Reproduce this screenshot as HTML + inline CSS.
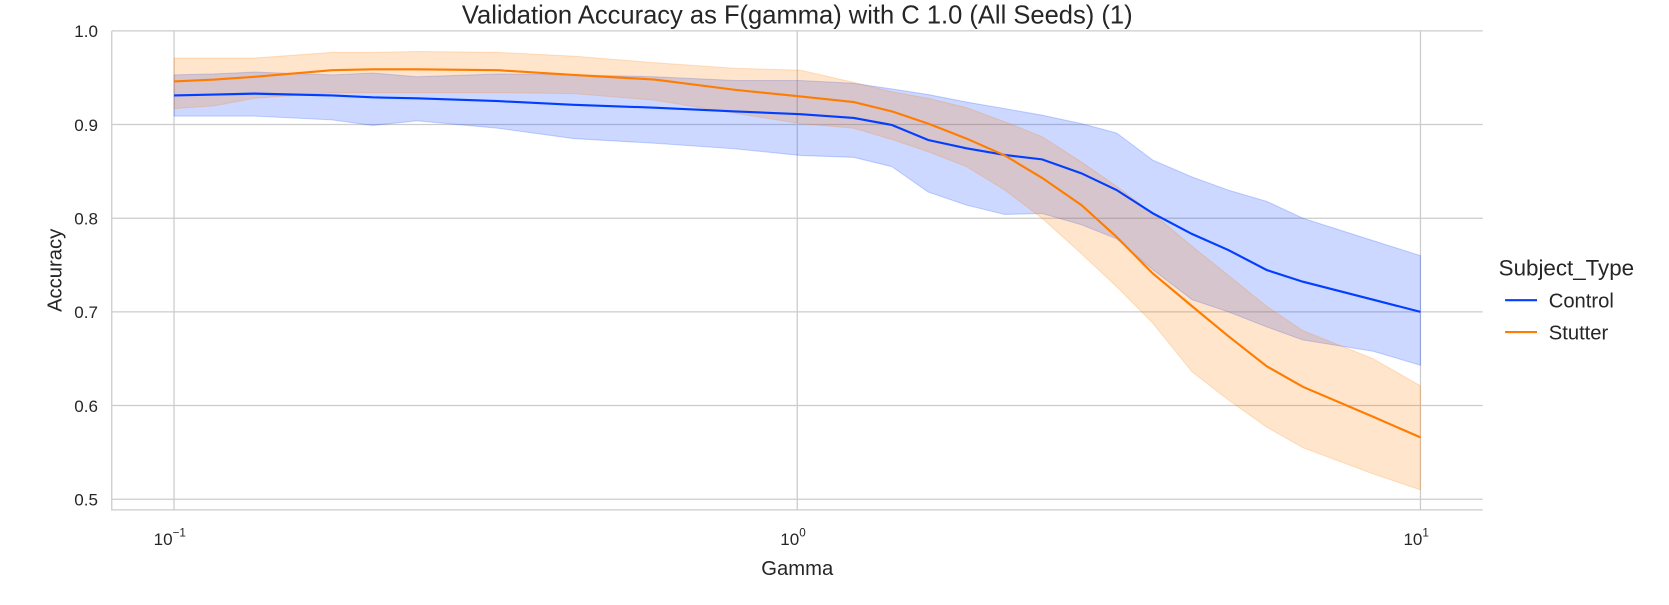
<!DOCTYPE html>
<html><head><meta charset="utf-8"><style>
body{margin:0;background:#fff;overflow:hidden;}
svg text{font-family:"Liberation Sans",Arial,sans-serif;fill:#262626;}
</style></head><body>
<svg width="1669" height="600" viewBox="0 0 1568 563.7" preserveAspectRatio="none" id="chart">
<text x="749" y="22" text-anchor="middle" font-size="24">Validation Accuracy as F(gamma) with C 1.0 (All Seeds) (1)</text>
<g id="grid"></g><g id="bands"></g><g id="lines"></g><g id="axes"></g>
<text x="749" y="540" text-anchor="middle" font-size="19">Gamma</text>
<text transform="translate(58,254) rotate(-90)" text-anchor="middle" font-size="19">Accuracy</text>
<g>
<text x="1408" y="259" font-size="21">Subject_Type</text>
<g><line x1="1414" y1="282" x2="1444" y2="282" stroke="#023eff" stroke-width="2"/><text x="1455" y="289" font-size="19">Control</text></g>
<g><line x1="1414" y1="312" x2="1444" y2="312" stroke="#ff7c00" stroke-width="2"/><text x="1455" y="319" font-size="19">Stutter</text></g>
</g>
</svg>
<script>
const gammas=[0.1,0.116,0.1346,0.1793,0.2083,0.2456,0.3312,0.4378,0.5904,0.7961,1.012,1.232,1.419,1.622,1.869,2.153,2.471,2.858,3.254,3.720,4.301,4.918,5.665,6.477,8.395,10];
const controlMean=[0.931,0.932,0.933,0.931,0.929,0.928,0.925,0.921,0.918,0.914,0.911,0.907,0.8995,0.8835,0.8746,0.8675,0.8628,0.8479,0.8301,0.8052,0.7831,0.766,0.7447,0.7322,0.713,0.700];
const controlUpper=[0.953,0.954,0.956,0.953,0.955,0.951,0.954,0.953,0.951,0.947,0.947,0.944,0.938,0.932,0.924,0.917,0.910,0.901,0.891,0.862,0.844,0.830,0.818,0.800,0.776,0.760];
const controlLower=[0.909,0.909,0.909,0.905,0.899,0.904,0.896,0.885,0.880,0.874,0.867,0.865,0.855,0.828,0.814,0.804,0.805,0.793,0.778,0.745,0.713,0.700,0.684,0.670,0.658,0.643];
const stutterMean=[0.946,0.948,0.951,0.958,0.959,0.959,0.958,0.953,0.948,0.937,0.930,0.924,0.914,0.901,0.885,0.867,0.843,0.814,0.780,0.741,0.706,0.674,0.642,0.620,0.588,0.566];
const stutterUpper=[0.971,0.971,0.971,0.977,0.977,0.978,0.977,0.973,0.966,0.960,0.958,0.945,0.935,0.928,0.918,0.903,0.887,0.860,0.834,0.805,0.770,0.739,0.706,0.680,0.650,0.621];
const stutterLower=[0.917,0.920,0.928,0.934,0.934,0.934,0.934,0.933,0.926,0.912,0.901,0.896,0.884,0.871,0.855,0.830,0.800,0.762,0.727,0.688,0.636,0.606,0.577,0.555,0.527,0.510];
const yTicks=[0.5,0.6,0.7,0.8,0.9,1.0];
const yTickLabels=["0.5","0.6","0.7","0.8","0.9","1.0"];
const xTicks=[0.1,1,10];
const xTickExps=["−1","0","1"];
const NS="http://www.w3.org/2000/svg";
const X=g=>749+585.5*Math.log10(g);
const Y=v=>29+(1-v)*880;
function mk(tag,parent,attrs){const e=document.createElementNS(NS,tag);for(const k in attrs)e.setAttribute(k,attrs[k]);parent.appendChild(e);return e;}
const grid=document.getElementById('grid'),axes=document.getElementById('axes'),bands=document.getElementById('bands'),lines=document.getElementById('lines');
yTicks.forEach((t,i)=>{
 const l=mk('line',grid,{x1:105,x2:1393,y1:Y(t),y2:Y(t),stroke:'#cccccc','stroke-width':1.2});
 
 
 const tx=mk('text',axes,{x:92,y:Y(t)+6,'text-anchor':'end','font-size':16});
 tx.textContent=yTickLabels[i];
 
 
});
xTicks.forEach((t,i)=>{
 const l=mk('line',grid,{x1:X(t),x2:X(t),y1:29,y2:479,stroke:'#cccccc','stroke-width':1.2});
 
 
 const tx=mk('text',axes,{x:X(t)-4,y:512,'text-anchor':'middle','font-size':16});
 tx.textContent='10';
 const s=mk('tspan',tx,{dy:-8,'font-size':11});
 s.textContent=xTickExps[i];
 
 
});
const sp=mk('path',axes,{d:'M105,29 L105,479 L1393,479',fill:'none',stroke:'#cccccc','stroke-width':1.2});


function band(up,lo,color,name){
 let d='M'+gammas.map((g,i)=>X(g)+','+Y(up[i])).join(' L');
 d+=' L'+gammas.slice().reverse().map((g,j)=>{const i=gammas.length-1-j;return X(g)+','+Y(lo[i]);}).join(' L')+'Z';
 const p=mk('path',bands,{d:d,fill:color,'fill-opacity':0.2,stroke:color,'stroke-opacity':0.2});
 
 
}
function line(m,color,name){
 const p=mk('path',lines,{d:'M'+gammas.map((g,i)=>X(g)+','+Y(m[i])).join(' L'),fill:'none',stroke:color,'stroke-width':2});
 
 
}
band(controlUpper,controlLower,'#023eff','control-ci-band');
band(stutterUpper,stutterLower,'#ff7c00','stutter-ci-band');
line(controlMean,'#023eff','control-line');
line(stutterMean,'#ff7c00','stutter-line');
</script>
</body></html>
